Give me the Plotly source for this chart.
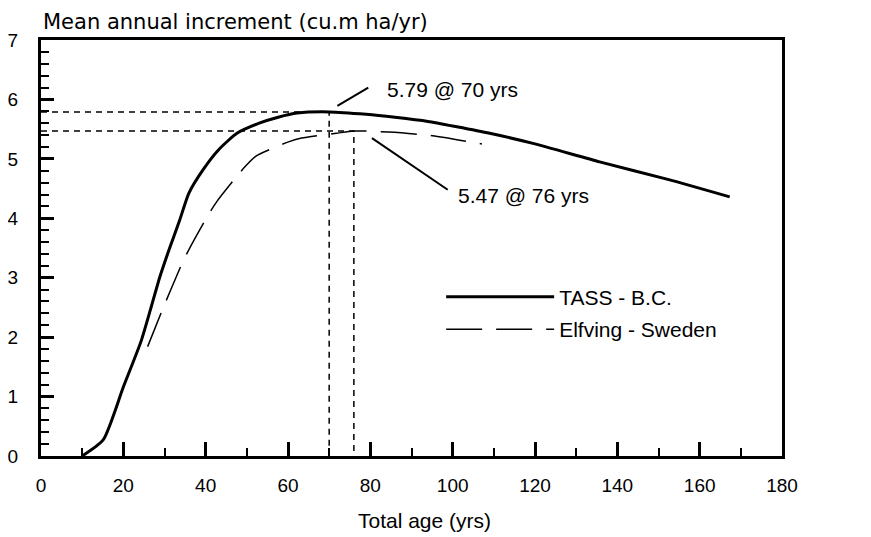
import plotly.graph_objects as go

# ---- data ----
tass_age = [10, 15.1, 20, 24.4, 28.9, 31.1, 33.7, 35.9, 39.3, 43.1, 47.6, 53.0, 57.6, 62.2, 70,
            79, 86, 94, 101, 109, 119.5, 135.7, 152.5, 167.3]
tass_mai = [0.00, 0.27, 1.16, 1.95, 3.02, 3.47, 3.97, 4.42, 4.81, 5.15, 5.43, 5.60, 5.70, 5.77, 5.79,
            5.75, 5.70, 5.63, 5.54, 5.43, 5.26, 4.95, 4.65, 4.36]

elf_age = [25.9, 29.3, 34.2, 35.9, 40.4, 42.7, 49.2, 52.3, 60.3, 63.3, 71.7, 76, 84.4, 95.1, 107.1]
elf_mai = [1.84, 2.43, 3.23, 3.47, 4.03, 4.28, 4.84, 5.05, 5.29, 5.35, 5.43, 5.47, 5.45, 5.39, 5.25]

opt_age = [70, 76]
opt_mai = [5.79, 5.47]
series_names = ["TASS - B.C.", "Elfving - Sweden"]

x_ticks = [0, 20, 40, 60, 80, 100, 120, 140, 160, 180]
y_ticks = [0, 1, 2, 3, 4, 5, 6, 7]

TEXT_FONT = "Liberation Sans, Arial, sans-serif"
TICK_FONT = "Liberation Sans, Arial, sans-serif"

fig = go.Figure()

# dashed reference lines to the optimum points
for a, m in zip(opt_age, opt_mai):
    fig.add_trace(go.Scatter(x=[0, a, a], y=[m, m, 0], mode="lines",
                             line=dict(color="black", width=1.5, dash="6px,5px"),
                             showlegend=False, hoverinfo="skip"))

fig.add_trace(go.Scatter(x=tass_age, y=tass_mai, mode="lines", name=series_names[0],
                         line=dict(color="black", width=3, shape="spline", smoothing=0.6),
                         legendgroup="a"))
fig.add_trace(go.Scatter(x=elf_age, y=elf_mai, mode="lines", name=series_names[1],
                         line=dict(color="black", width=1.5, dash="36px,14px", shape="spline", smoothing=0.6),
                         legendgroup="b"))

# leader lines + labels for the optima
leaders = [
    dict(x0=72.0, y0=5.89, x1=79.5, y1=6.20, tx=83.5, ty=6.16),
    dict(x0=80.4, y0=5.35, x1=98.8, y1=4.48, tx=100.8, ty=4.39),
]
for (a, m), L in zip(zip(opt_age, opt_mai), leaders):
    fig.add_shape(type="line", xref="x", yref="y", x0=L["x0"], y0=L["y0"], x1=L["x1"], y1=L["y1"],
                  line=dict(color="black", width=2))
    fig.add_annotation(x=L["tx"], y=L["ty"], xref="x", yref="y", text=f"{m} @ {a} yrs",
                       showarrow=False, xanchor="left", yanchor="middle",
                       font=dict(family=TEXT_FONT, size=21, color="black"))

# axis titles
fig.add_annotation(x=0.0, y=1.043, xref="paper", yref="paper", text="Mean annual increment (cu.m ha/yr)",
                   showarrow=False, xanchor="left", yanchor="middle",
                   font=dict(family="DejaVu Sans, sans-serif", size=21, color="black"))
fig.add_annotation(x=0.518, y=-0.154, xref="paper", yref="paper", text="Total age (yrs)",
                   showarrow=False, xanchor="center", yanchor="middle",
                   font=dict(family=TEXT_FONT, size=21, color="black"))

axis_common = dict(showline=True, linecolor="black", linewidth=3, mirror=True,
                   ticks="inside", tickcolor="black", showgrid=False, zeroline=False,
                   automargin=False,
                   tickfont=dict(family=TICK_FONT, size=19, color="black"))

# page body has an 8px margin, so the figure is sized to fit the 871x537 window
fig.update_layout(
    width=863, height=529,
    margin=dict(l=33, r=89, t=32, b=81, autoexpand=False),
    paper_bgcolor="white", plot_bgcolor="white",
    xaxis=dict(range=[0, 180], tickvals=x_ticks, ticklen=14, tickwidth=2.5,
               minor=dict(dtick=10, tick0=0, ticks="inside", ticklen=8, tickwidth=2, tickcolor="black"),
               ticklabelstandoff=10, **axis_common),
    yaxis=dict(range=[0, 7], tickvals=y_ticks, ticklen=13, tickwidth=2.5,
               minor=dict(dtick=0.2, tick0=0, ticks="inside", ticklen=8, tickwidth=2, tickcolor="black"),
               ticklabelstandoff=16, **axis_common),
    legend=dict(x=0.540, y=0.431, xanchor="left", yanchor="top", bgcolor="rgba(0,0,0,0)",
                font=dict(family=TEXT_FONT, size=21, color="black"), itemwidth=108,
                tracegroupgap=2),
    showlegend=True,
)

fig.write_html("out.html")
